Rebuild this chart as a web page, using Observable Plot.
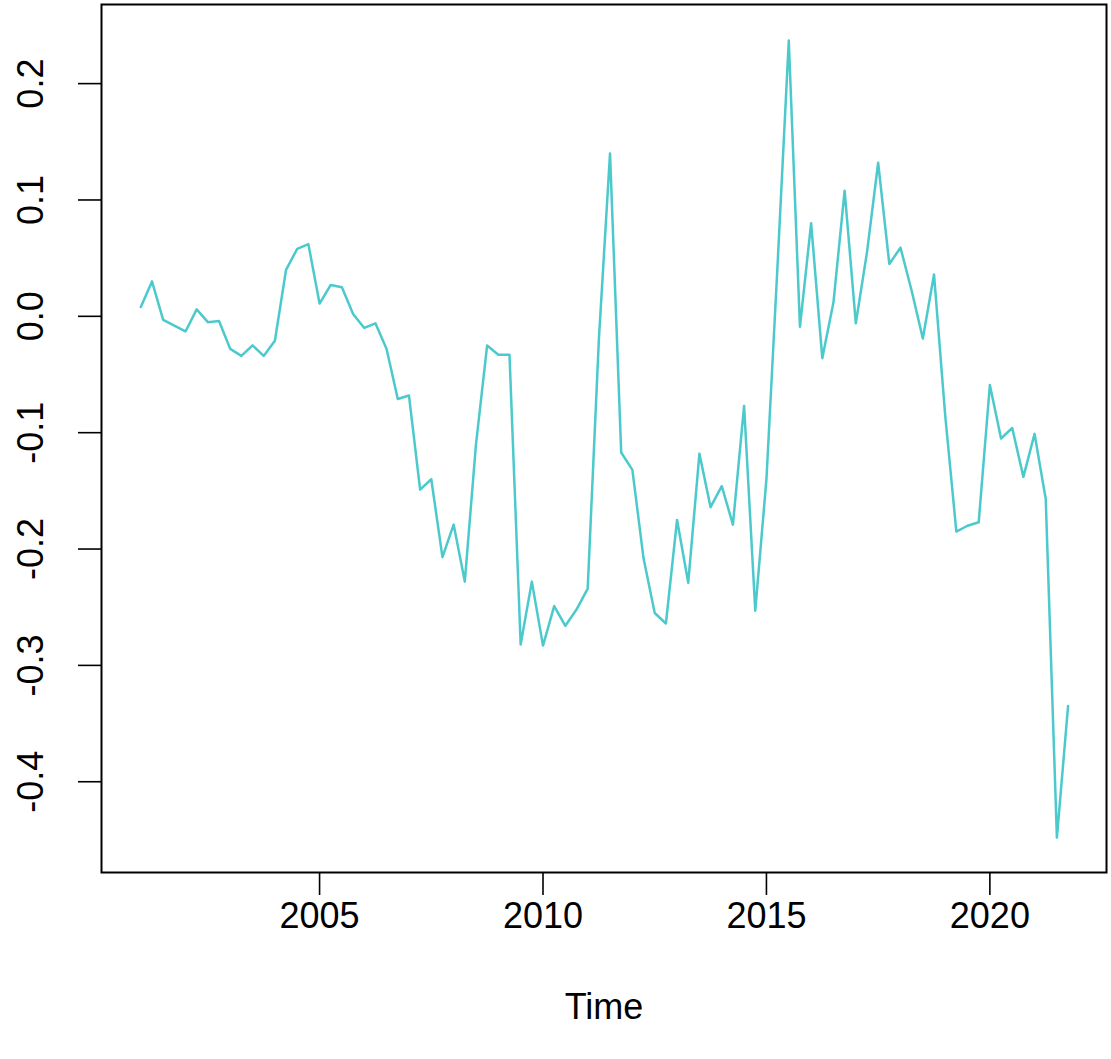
<!DOCTYPE html>
<html>
<head>
<meta charset="utf-8">
<script src="https://cdn.jsdelivr.net/npm/d3@7"></script>
<script src="https://cdn.jsdelivr.net/npm/@observablehq/plot@0.6"></script>
<style>
  html, body { margin: 0; padding: 0; background: #ffffff; }
  #chart svg { display: block; }
</style>
</head>
<body>
<div id="chart"></div>
<script>
// Quarterly time series, 2001 Q1 .. 2021 Q4
const startYear = 2001;
const frequency = 4;
const values = [
  0.008, 0.030, -0.003, -0.008,
  -0.013, 0.006, -0.005, -0.004,
  -0.028, -0.034, -0.025, -0.034,
  -0.021, 0.040, 0.058, 0.062,
  0.011, 0.027, 0.025, 0.002,
  -0.010, -0.006, -0.028, -0.071,
  -0.068, -0.149, -0.140, -0.207,
  -0.179, -0.228, -0.110, -0.025,
  -0.033, -0.033, -0.282, -0.228,
  -0.283, -0.249, -0.266, -0.252,
  -0.234, -0.020, 0.140, -0.117,
  -0.132, -0.208, -0.255, -0.264,
  -0.175, -0.229, -0.118, -0.164,
  -0.146, -0.179, -0.077, -0.253,
  -0.140, 0.045, 0.237, -0.009,
  0.080, -0.036, 0.012, 0.108,
  -0.006, 0.055, 0.132, 0.045,
  0.059, 0.022, -0.019, 0.036,
  -0.085, -0.185, -0.180, -0.177,
  -0.059, -0.105, -0.096, -0.138,
  -0.101, -0.157, -0.448, -0.335
];
const xTicks = [2005, 2010, 2015, 2020];
const yTicks = [-0.4, -0.3, -0.2, -0.1, 0.0, 0.1, 0.2];
const xLabel = "Time";

const series = values.map((v, i) => ({ t: startYear + i / frequency, v }));

const font = "'Liberation Sans', Arial, Helvetica, sans-serif";
const fs = 36;

const chart = Plot.plot({
  width: 1111,
  height: 1059,
  marginTop: 4,
  marginBottom: 187,
  marginLeft: 101,
  marginRight: 5,
  style: { fontFamily: font, background: "#ffffff", color: "#000000" },
  x: { domain: [2000.12, 2022.61], label: null },
  y: { domain: [-0.478, 0.268], label: null },
  marks: [
    Plot.lineY(series, { x: "t", y: "v", stroke: "#4cc9cc", strokeWidth: 2.5 }),
    Plot.frame({ stroke: "#000000", strokeWidth: 2 }),
    Plot.axisX(xTicks, {
      tickSize: 23, tickPadding: 7, fontSize: fs, tickFormat: d => String(d),
      stroke: "#000000", strokeWidth: 1.6, label: null
    }),
    Plot.axisY(yTicks, {
      tickSize: 23, tickFormat: () => "", stroke: "#000000", strokeWidth: 1.6, label: null
    }),
    Plot.text(yTicks, {
      y: d => d, frameAnchor: "left", dx: -70, rotate: -90,
      text: d => d.toFixed(1), fontSize: fs, textAnchor: "middle", lineAnchor: "middle",
      fill: "#000000"
    }),
    Plot.text([xLabel], {
      frameAnchor: "bottom", dy: 135, text: d => d, fontSize: fs,
      textAnchor: "middle", lineAnchor: "middle", fill: "#000000"
    })
  ]
});
document.getElementById("chart").appendChild(chart);
</script>
</body>
</html>
